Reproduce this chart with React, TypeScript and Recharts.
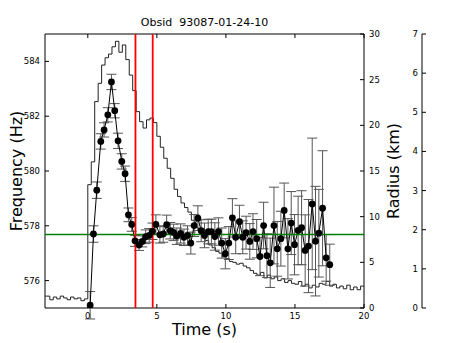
import React from 'react';
import { ComposedChart, Line, XAxis, YAxis, ReferenceLine, ReferenceArea, ErrorBar } from 'recharts';

const burstTime = [0.17, 0.41, 0.65, 0.94, 1.18, 1.45, 1.71, 1.95, 2.19, 2.46, 2.70, 2.94, 3.18, 3.42,
  3.71, 3.95, 4.19, 4.45, 4.68, 4.93,
  5.22, 5.46, 5.71, 5.97, 6.21, 6.45, 6.72, 6.96, 7.22, 7.46,
  7.70, 7.97, 8.21, 8.45, 8.72, 8.95, 9.20, 9.46, 9.70, 9.96,
  10.21, 10.47, 10.71, 10.98, 11.22, 11.46, 11.73, 11.96, 12.23,
  12.47, 12.73, 12.97, 13.21, 13.48, 13.72, 13.98, 14.22, 14.49, 14.73, 14.97,
  15.23, 15.48, 15.74, 15.98, 16.25, 16.49, 16.73, 17.00, 17.26, 17.52];

const frequency = [575.1, 577.7, 579.3, 581.08, 581.5, 582.05, 583.25, 582.2, 581.1, 580.35, 579.9, 578.4, 578.05, 577.45,
  577.3, 577.43, 577.6, 577.65, 577.8, 578.05,
  577.67, 577.7, 578.04, 577.82, 577.76, 577.62, 577.72, 577.58, 577.65, 577.37,
  578.01, 578.28, 577.82, 577.65, 577.79, 577.79, 577.61, 577.79, 577.37, 576.98,
  577.37, 578.29, 577.58, 578.15, 577.58, 577.75, 577.43, 577.79, 577.53,
  576.88, 578.01, 576.91, 576.65, 578.01, 577.16, 577.53, 578.56, 577.16, 578.1, 577.31,
  577.83, 577.93, 577.1, 577.26, 578.8, 577.44, 577.73, 578.64, 576.83, 576.58];

const freqError = [0.5, 0.3, 0.3, 0.28, 0.26, 0.26, 0.28, 0.26, 0.28, 0.28, 0.28, 0.25, 0.25, 0.2,
  0.2, 0.2, 0.25, 0.25, 0.3, 0.35,
  0.3, 0.3, 0.35, 0.3, 0.3, 0.3, 0.35, 0.3, 0.35, 0.4,
  0.4, 0.45, 0.4, 0.45, 0.45, 0.45, 0.5, 0.5, 0.55, 0.55,
  0.6, 0.7, 0.6, 0.6, 0.6, 0.6, 0.65, 0.65, 0.7,
  0.7, 0.85, 0.8, 0.9, 1.4, 1.0, 1.0, 1.0, 1.1, 1.15, 1.1,
  1.25, 1.35, 1.3, 1.7, 2.4, 2.0, 1.6, 2.1, 0.85, 0.75];

// light curve (scaled to radius axis), 0.25 s bins starting at -3.0 s
const lcStart = -3.0;
const lcBin = 0.25;
const lightCurve = [1.3, 0.9, 1.2, 1.0, 1.3, 1.1, 0.9, 1.2, 1.0, 1.1, 0.8, 1.0,
  13.5, 16.0, 22.6, 24.6, 26.6, 27.4, 27.8, 28.6, 29.2, 28.0, 28.8, 27.2, 25.5, 23.8, 21.5, 20.4,
  19.7, 20.6, 20.8, 20.3, 18.8, 17.6, 16.4, 15.3, 14.2, 13.0, 12.2, 11.5, 11.0, 10.5, 9.6, 8.8,
  8.4, 7.9, 7.4, 6.9, 6.6, 6.2, 6.0, 5.6, 5.4, 5.1, 5.0, 4.8, 4.9, 4.6, 4.4, 4.1,
  3.8, 3.6, 3.9, 3.3, 3.6, 3.2, 3.4, 3.0, 3.2, 2.8, 3.0, 2.7, 2.6, 2.9, 2.4, 2.6,
  2.2, 2.5, 2.3, 2.7, 2.6, 2.9, 2.4, 2.6, 2.2, 2.4, 2.1, 2.5, 2.0, 2.3, 2.0, 2.4, 2.4];

const redLines = [3.45, 4.7];
const meanFrequency = 577.68;
const xTicks = [0, 5, 10, 15, 20];
const freqTicks = [576, 578, 580, 582, 584];
const radiusTicks = [0, 5, 10, 15, 20, 25, 30];
const extraTicks = [0, 1, 2, 3, 4, 5, 6, 7];

const burstData = burstTime.map((t, i) => ({ t, f: frequency[i], err: freqError[i] }));
const lcData = lightCurve.map((r, i) => ({ t: lcStart + i * lcBin, r }));
lcData.unshift({ t: -3.1, r: lightCurve[0] });

const FONT = 'DejaVu Sans';
const TOP = 34;
const BOTTOM = 308;

const XTick = (p: any) => (
  <g>
    <line x1={p.x} y1={BOTTOM} x2={p.x} y2={BOTTOM - 4} stroke="#000" />
    <line x1={p.x} y1={TOP} x2={p.x} y2={TOP + 4} stroke="#000" />
    <text x={p.x} y={p.y + 11} textAnchor="middle" fontSize={8.5} fontFamily={FONT} fill="#000">{p.payload.value}</text>
  </g>
);
const LeftTick = (p: any) => (
  <g>
    <line x1={p.x} y1={p.y} x2={p.x + 4} y2={p.y} stroke="#000" />
    <text x={p.x - 5} y={p.y + 3} textAnchor="end" fontSize={8.5} fontFamily={FONT} fill="#000">{p.payload.value}</text>
  </g>
);
const RightTick = (p: any) => (
  <g>
    <line x1={p.x} y1={p.y} x2={p.x - 4} y2={p.y} stroke="#000" />
    <text x={p.x + 5} y={p.y + 3} textAnchor="start" fontSize={8.5} fontFamily={FONT} fill="#000">{p.payload.value}</text>
  </g>
);
const FarTick = (p: any) => (
  <g>
    <line x1={p.x} y1={p.y} x2={p.x + 4} y2={p.y} stroke="#000" />
    <text x={p.x - 4} y={p.y + 3} textAnchor="end" fontSize={8.5} fontFamily={FONT} fill="#000">{p.payload.value}</text>
  </g>
);

const Dot = (p: any) => <circle cx={p.cx} cy={p.cy} r={3.4} fill="#000" stroke="none" />;

export default function App() {
  return (
    <div style={{ position: 'absolute', left: 0, top: 0, width: 457, height: 343, background: '#fff' }}>
      <div style={{ position: 'absolute', left: 45, width: 319, top: 16, textAlign: 'center', fontFamily: FONT, fontSize: 11, lineHeight: '13px', whiteSpace: 'pre' }}>
        {'Obsid  93087-01-24-10'}
      </div>
      <ComposedChart width={457} height={343} margin={{ top: 34, right: 0, bottom: 0, left: 0 }}>
        <XAxis type="number" dataKey="t" domain={[-3.1, 20]} ticks={xTicks} allowDataOverflow
          height={35} tickSize={0} tickMargin={0} axisLine={false} tickLine={false} tick={<XTick />}
          label={{ value: 'Time (s)', position: 'center', dy: 4, fontSize: 16, fontFamily: FONT, fill: '#000' }} />
        <YAxis yAxisId="f" type="number" domain={[575, 585]} ticks={freqTicks} allowDataOverflow width={45}
          tickSize={0} tickMargin={0} axisLine={false} tickLine={false} tick={<LeftTick />}
          label={{ value: 'Frequency (Hz)', angle: -90, position: 'center', dx: -6, fontSize: 16, fontFamily: FONT, fill: '#000' }} />
        <YAxis yAxisId="r" orientation="right" type="number" domain={[0, 30]} ticks={radiusTicks} allowDataOverflow width={58}
          tickSize={0} tickMargin={0} axisLine={false} tickLine={false} tick={<RightTick />}
          label={{ value: 'Radius (km)', angle: -90, position: 'center', dx: 0, fontSize: 16, fontFamily: FONT, fill: '#000' }} />
        <YAxis yAxisId="z" orientation="right" type="number" domain={[0, 7]} ticks={extraTicks} allowDataOverflow width={35}
          interval={0} tickSize={0} tickMargin={0} axisLine={{ stroke: '#000' }} tickLine={false} tick={<FarTick />} />
        <ReferenceArea yAxisId="f" x1={-3.1} x2={20} y1={575} y2={585} fill="none" stroke="#000" strokeWidth={1} ifOverflow="visible" />
        <Line yAxisId="r" data={lcData} dataKey="r" type="stepAfter" stroke="#222" strokeWidth={1} dot={false} isAnimationActive={false} />
        <Line yAxisId="f" data={burstData} dataKey="f" type="linear" stroke="#000" strokeWidth={1} dot={<Dot />} isAnimationActive={false}>
          <ErrorBar dataKey="err" direction="y" width={5} stroke="#555" strokeWidth={1} />
        </Line>
        <ReferenceLine yAxisId="f" y={meanFrequency} stroke="#008000" strokeWidth={1.6} />
        {redLines.map((x) => (
          <ReferenceLine key={x} yAxisId="f" x={x} stroke="#ff0000" strokeWidth={1.8} />
        ))}
      </ComposedChart>
    </div>
  );
}
